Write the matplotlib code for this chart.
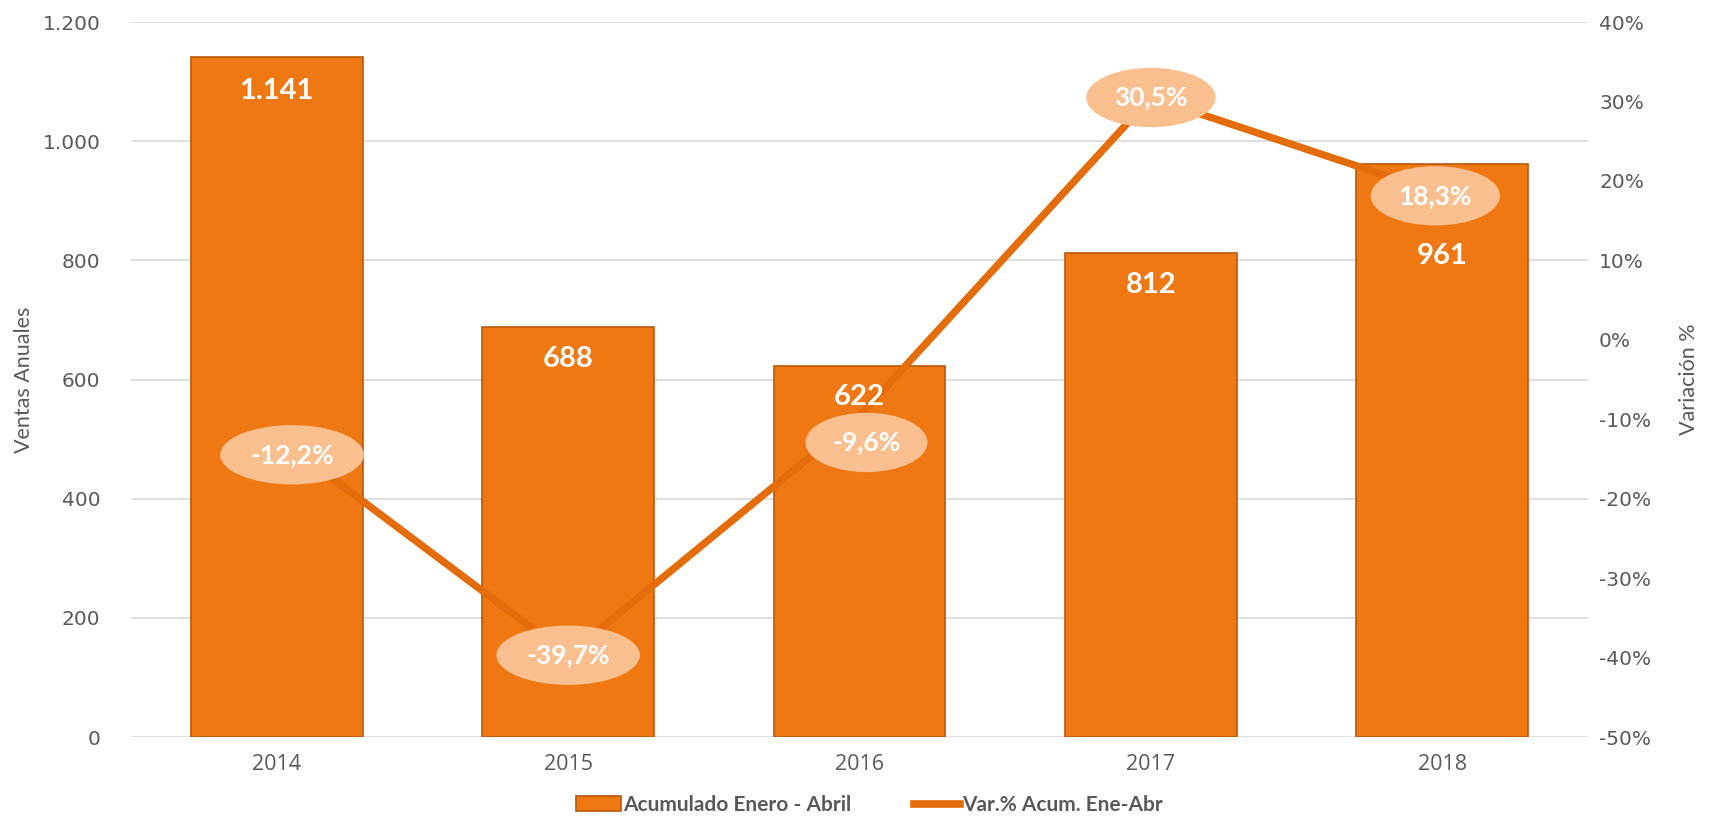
import matplotlib
matplotlib.use("Agg")
import matplotlib.pyplot as plt
from matplotlib.patches import Patch
from matplotlib.lines import Line2D
from matplotlib.ticker import FuncFormatter, MultipleLocator

years = ["2014", "2015", "2016", "2017", "2018"]
ventas = [1141, 688, 622, 812, 961]
variacion = [-12.2, -39.7, -9.6, 30.5, 18.3]
bar_name = "Acumulado Enero - Abril"
line_name = "Var.% Acum. Ene-Abr"

# label offsets in points (styling only)
bar_label_dy = [-24, -23, -22, -23, -66]
pct_label_dx = [11, 0, 5, 0, -5]
pct_label_dy = [-13, 0, -19, 0, -1]

BAR = "#F07812"
BAR_EDGE = "#B9580B"
LINE = "#E46C0A"
ELL = "#F9BF8F"
GRAY = "#595959"
NARROW = ["Liberation Sans Narrow", "Lato", "DejaVu Sans"]
BOLD = ["Lato", "DejaVu Sans"]

fig = plt.figure(figsize=(17.11, 8.19), dpi=100)
ax = fig.add_axes([0.0766, 0.1001, 0.8515, 0.873])
ax2 = ax.twinx()

x = list(range(len(years)))
ax.bar(x, ventas, width=0.59, color=BAR, edgecolor=BAR_EDGE, linewidth=1.2, zorder=2)
ax.set_xlim(-0.5, len(years) - 0.5)
ax.set_ylim(0, 1200)
ax.yaxis.set_major_locator(MultipleLocator(200))
ax.yaxis.set_major_formatter(FuncFormatter(lambda v, p: f"{int(v):,}".replace(",", ".")))
ax.set_axisbelow(True)
ax.grid(axis="y", color="#D9D9D9", linewidth=1.2, zorder=0)
ax.set_xticks(x)
ax.set_xticklabels(years, fontsize=15.5, color=GRAY, family=["Open Sans", "DejaVu Sans"])
ax.tick_params(axis="x", length=0, pad=12)
ax.tick_params(axis="y", length=0, pad=22, labelsize=14.5, labelcolor=GRAY)
ax.set_ylabel("Ventas Anuales", fontsize=15.5, color=GRAY, family=NARROW, labelpad=6)

ax2.plot(x, variacion, color=LINE, linewidth=5.3, solid_capstyle="butt", zorder=3)
ax2.set_ylim(-50, 40)
ax2.yaxis.set_major_locator(MultipleLocator(10))
ax2.yaxis.set_major_formatter(FuncFormatter(lambda v, p: f"{int(round(v))}%"))
ax2.tick_params(axis="y", length=0, pad=8, labelsize=14.5, labelcolor=GRAY)
ax2.set_ylabel("Variación %", fontsize=15.5, color=GRAY, family=NARROW, labelpad=20)

for xi, v, dx, dy in zip(x, variacion, pct_label_dx, pct_label_dy):
    ax2.annotate(f"{v:.1f}%".replace(".", ","), (xi, v), xytext=(dx, dy),
                 textcoords="offset points", ha="center", va="center", fontsize=19,
                 fontweight="bold", color="white", family=BOLD, zorder=5,
                 bbox=dict(boxstyle="ellipse,pad=0.34", facecolor=ELL, edgecolor="none"))

for xi, v, off in zip(x, ventas, bar_label_dy):
    ax2.annotate(f"{v:,}".replace(",", "."), (xi, v), xycoords=ax.transData,
                 xytext=(0, off), textcoords="offset points",
                 ha="center", va="center", fontsize=21, fontweight="bold", color="white",
                 family=BOLD, zorder=6)

for a in (ax, ax2):
    for s in a.spines.values():
        s.set_visible(False)

handles = [Patch(facecolor=BAR, edgecolor=BAR_EDGE, linewidth=1.2),
           Line2D([0], [0], color=LINE, linewidth=5.5)]
leg = fig.legend(handles, [bar_name, line_name], loc="center", bbox_to_anchor=(0.508, 0.017),
                 ncol=2, frameon=False, handlelength=2.2, handletextpad=0.1, columnspacing=3.0,
                 prop=dict(family=NARROW, weight="bold", size=15))
for t in leg.get_texts():
    t.set_color(GRAY)

fig.savefig("out.png", dpi=100)
